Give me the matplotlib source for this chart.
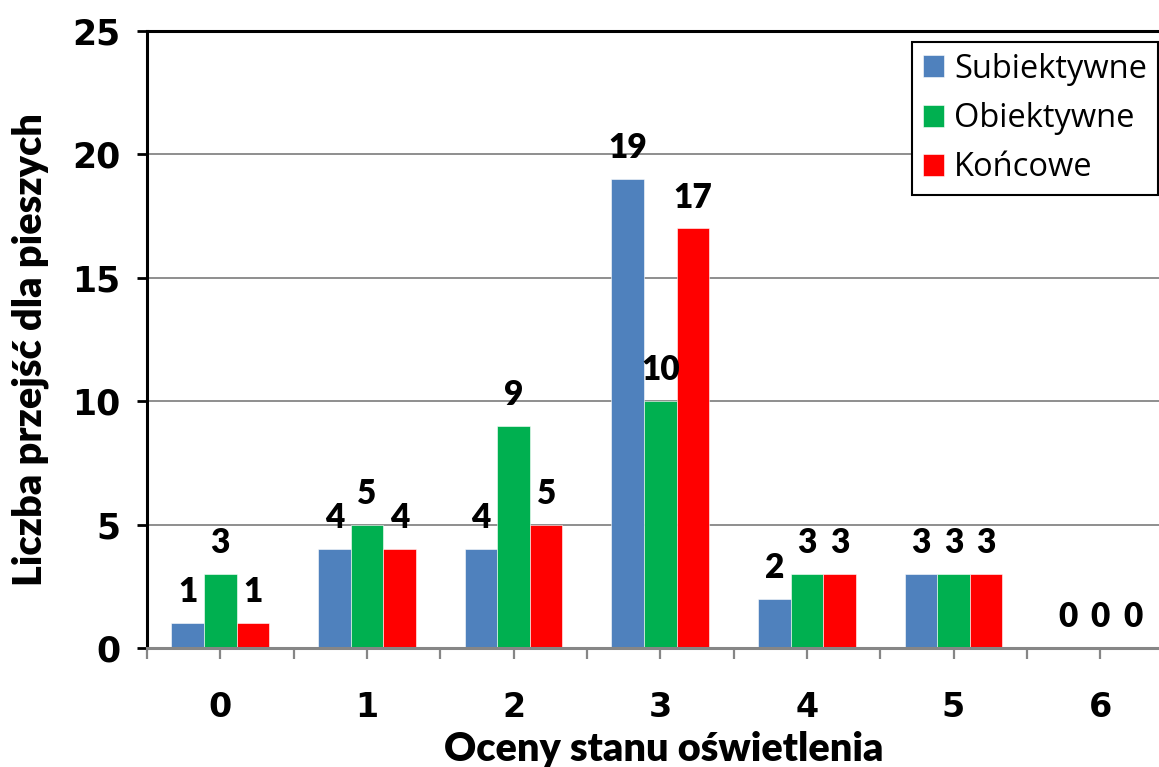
import numpy as np
import matplotlib.pyplot as plt
from matplotlib.ticker import FixedLocator

# Dane
oceny = ["0", "1", "2", "3", "4", "5", "6"]
subiektywne = [1, 4, 4, 19, 2, 3, 0]
obiektywne = [3, 5, 9, 10, 3, 3, 0]
koncowe = [1, 4, 5, 17, 3, 3, 0]

serie = [("Subiektywne", subiektywne, "#4F81BD"),
         ("Obiektywne", obiektywne, "#00B050"),
         ("Końcowe", koncowe, "#FF0000")]

fig = plt.figure(figsize=(11.59, 7.67), dpi=100)
ax = fig.add_axes([147 / 1159, 1 - 648 / 767, (1173.5 - 147) / 1159, (648 - 31) / 767])

x = np.arange(len(oceny))
w = 0.222
for i, (nazwa, vals, kolor) in enumerate(serie):
    pos = x + (i - 1) * w
    ax.bar(pos, vals, width=w, color=kolor, label=nazwa, zorder=3,
           edgecolor="white", linewidth=0.4)
    for xp, v in zip(pos, vals):
        ax.annotate(str(v), (xp, v), xytext=(0, 15), textcoords="offset points",
                    ha="center", va="baseline", fontsize=24, fontweight="heavy",
                    family="Lato", color="black", zorder=4)

ax.set_xlim(-0.5, 6.5)
ax.set_ylim(0, 25)
ax.set_yticks([0, 5, 10, 15, 20, 25])
ax.yaxis.grid(True, color="#868686", linewidth=1.3, zorder=0)
ax.set_axisbelow(True)

ax.set_xticks(x)
ax.set_xticklabels(oceny)
ax.xaxis.set_minor_locator(FixedLocator(np.arange(-0.5, 7, 1)))

for s in ["left", "top"]:
    ax.spines[s].set_color("black")
    ax.spines[s].set_linewidth(2.2)
ax.spines["right"].set_visible(False)
ax.spines["bottom"].set_color("#868686")
ax.spines["bottom"].set_linewidth(2.2)
ax.spines["bottom"].set_zorder(5)

ax.tick_params(axis="y", length=7, width=2, color="black", pad=12,
               labelsize=25)
ax.tick_params(axis="x", which="both", length=8, width=1.6, color="#868686",
               pad=23, labelsize=24)
for lab in ax.get_xticklabels() + ax.get_yticklabels():
    lab.set_fontweight("bold")
    lab.set_family("DejaVu Sans")

fig.text(30 / 1159, 1 - 350 / 767, "Liczba przejść dla pieszych", rotation=90,
         ha="center", va="center", fontsize=28.5, fontweight="heavy", family="Lato")
fig.text(664 / 1159, 1 - 761 / 767, "Oceny stanu oświetlenia",
         ha="center", va="baseline", fontsize=28.5, fontweight="heavy", family="Lato")

leg = ax.legend(loc="upper right", bbox_to_anchor=(1158 / 1159, 1 - 42 / 767),
                bbox_transform=fig.transFigure, prop={"family": "Open Sans", "size": 23.5},
                handlelength=0.65, handleheight=0.65, handletextpad=0.3,
                labelspacing=0.5, borderpad=0.33, borderaxespad=0, fancybox=False,
                framealpha=1, edgecolor="black")
leg.get_frame().set_linewidth(1.5)
leg.set_zorder(10)

fig.savefig("out.png", dpi=100)
